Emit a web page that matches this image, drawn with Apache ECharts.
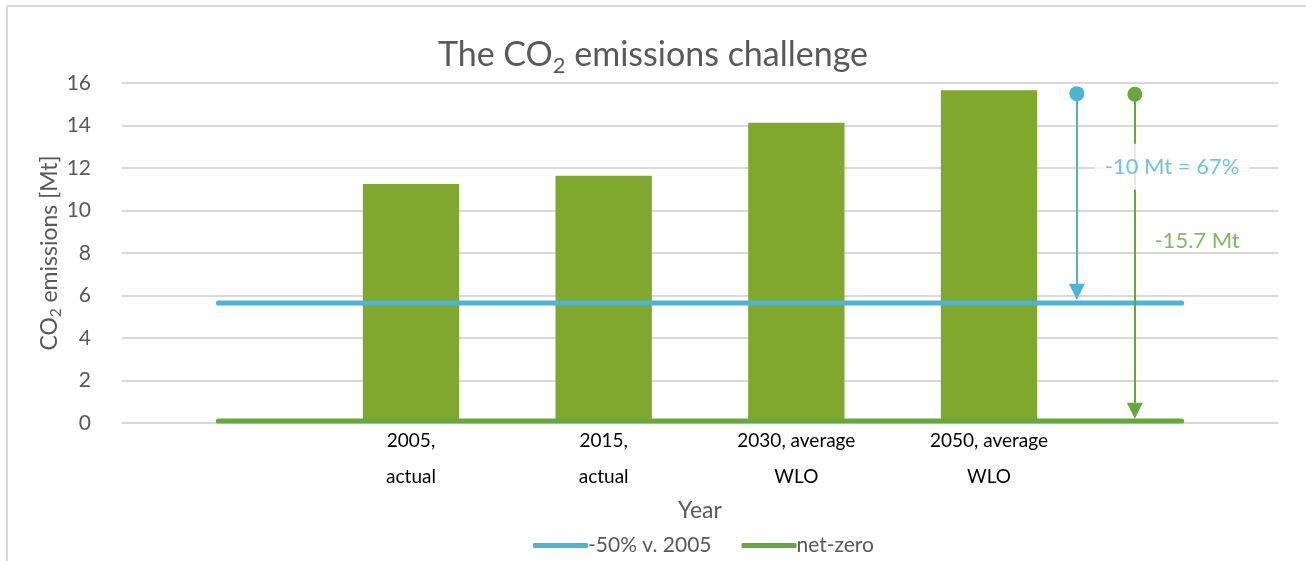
<!DOCTYPE html>
<html>
<head>
<meta charset="utf-8">
<script src="https://cdn.jsdelivr.net/npm/echarts@6/dist/echarts.min.js"></script>
<style>
  html, body { margin: 0; padding: 0; background: #fff; }
  #chart { width: 1306px; height: 561px; }
</style>
</head>
<body>
<div id="chart"></div>
<script>
// data
var categories = ['', '2005,\nactual', '2015,\nactual', '2030, average\nWLO', '2050, average\nWLO', ''];
var emissions = [null, 11.25, 11.63, 14.13, 15.66, null];
var halfTarget = [5.65, 5.65, 5.65, 5.65, 5.65, 5.65];
var netZero = [0.1, 0.1, 0.1, 0.1, 0.1, 0.1];
// arrows: [from, to] in Mt
var arrowHalf = [15.5, 5.8];
var arrowZero = [15.47, 0.2];
var arrowLabels = ['-10 Mt = 67%', '-15.7 Mt'];
var labelValues = [12.06, 8.58];

var blue = '#4BB5D3';
var green = '#65A83B';
var barGreen = '#80A82F';
var font = 'Lato, "Open Sans", sans-serif';

// x slots of the two arrows, on the hidden value axis
var xHalf = 4.456, xZero = 4.757;

var chart = echarts.init(document.getElementById('chart'));

var option = {
  animation: false,
  textStyle: { fontFamily: font },
  title: {
    text: 'The CO{sub|2} emissions challenge',
    left: 'center',
    top: 28,
    textStyle: {
      fontFamily: font,
      fontSize: 34,
      fontWeight: 'normal',
      color: '#595959',
      rich: {
        sub: { fontSize: 22, color: '#595959', fontFamily: font, padding: [22, 0, 0, 0] }
      }
    }
  },
  graphic: [
    { type: 'line', shape: { x1: 7, y1: 6, x2: 1306, y2: 6 }, style: { stroke: '#d9d9d9', lineWidth: 2 } },
    { type: 'line', shape: { x1: 7, y1: 6, x2: 7, y2: 561 }, style: { stroke: '#d9d9d9', lineWidth: 2 } }
  ],
  legend: {
    data: ['-50% v. 2005', 'net-zero'],
    left: 528,
    top: 530,
    itemWidth: 55,
    itemHeight: 5,
    itemGap: 30,
    icon: 'roundRect',
    textStyle: { fontSize: 21, color: '#595959', fontFamily: font, padding: [0, 0, 0, -5] }
  },
  grid: { left: 122, right: 28, top: 83, bottom: 138 },
  xAxis: [{
    type: 'category',
    data: categories,
    name: 'Year',
    nameLocation: 'middle',
    nameGap: 76,
    nameMoveOverlap: false,
    nameTextStyle: { fontSize: 23, color: '#595959', fontFamily: font },
    axisLine: { show: false },
    axisTick: { show: false },
    axisLabel: { interval: 0, color: '#000', fontSize: 19, lineHeight: 36, margin: 0, fontFamily: font }
  }, {
    type: 'value',
    min: -0.5,
    max: 5.5,
    show: false
  }],
  yAxis: {
    type: 'value',
    min: 0,
    max: 16,
    interval: 2,
    name: '{a|CO}{s|2}{a| emissions [Mt]}',
    nameLocation: 'middle',
    nameGap: 58,
    nameMoveOverlap: false,
    nameRotate: 90,
    nameTextStyle: {
      rich: {
        a: { fontSize: 23, color: '#595959', fontFamily: font },
        s: { fontSize: 15, color: '#595959', fontFamily: font, padding: [14, 0, 0, 0] }
      }
    },
    axisLine: { show: false },
    axisTick: { show: false },
    axisLabel: { color: '#595959', fontSize: 21, margin: 31, fontFamily: font },
    splitLine: { lineStyle: { color: '#d9d9d9', width: 2 } }
  },
  series: [{
    name: 'Emissions',
    type: 'bar',
    data: emissions,
    barWidth: '50%',
    itemStyle: { color: barGreen }
  }, {
    name: '-50% v. 2005',
    type: 'line',
    data: halfTarget,
    symbol: 'none',
    itemStyle: { color: blue },
    lineStyle: { color: blue, width: 5, cap: 'round' },
    z: 3
  }, {
    name: 'net-zero',
    type: 'line',
    data: netZero,
    symbol: 'none',
    itemStyle: { color: green },
    lineStyle: { color: green, width: 5, cap: 'round' },
    z: 3
  }, {
    name: 'arrows',
    type: 'line',
    xAxisIndex: 1,
    data: [],
    markLine: {
      silent: true,
      label: { show: false },
      symbol: 'none',
      data: [
        [
          { coord: [xHalf, arrowHalf[0]], lineStyle: { color: blue, width: 2, type: 'solid' } },
          { coord: [xHalf, arrowHalf[1] + 0.3] }
        ],
        [
          { coord: [xZero, arrowZero[0]], lineStyle: { color: green, width: 2, type: 'solid' } },
          { coord: [xZero, arrowZero[1] + 0.3] }
        ]
      ]
    },
    z: 4
  }, {
    name: 'arrow ends',
    type: 'scatter',
    xAxisIndex: 1,
    silent: true,
    z: 5,
    itemStyle: { opacity: 1 },
    data: [
      { value: [xHalf, arrowHalf[0]], symbol: 'circle', symbolSize: 15, itemStyle: { color: blue, opacity: 1 } },
      { value: [xZero, arrowZero[0]], symbol: 'circle', symbolSize: 15, itemStyle: { color: green, opacity: 1 } },
      { value: [xHalf, arrowHalf[1]], symbol: 'triangle', symbolRotate: 180, symbolSize: [16, 16], symbolOffset: [0, -8], itemStyle: { color: blue, opacity: 1 } },
      { value: [xZero, arrowZero[1]], symbol: 'triangle', symbolRotate: 180, symbolSize: [16, 16], symbolOffset: [0, -8], itemStyle: { color: green, opacity: 1 } }
    ]
  }, {
    name: 'labels',
    type: 'scatter',
    xAxisIndex: 1,
    symbolSize: 0,
    silent: true,
    z: 10,
    data: [
      { value: [4.95, labelValues[0]], label: { color: blue, backgroundColor: '#fff', padding: [12, 10, 12, 10] } },
      { value: [5.08, labelValues[1]], label: { color: green } }
    ],
    label: {
      show: true,
      position: 'inside',
      fontSize: 22,
      fontFamily: font,
      formatter: function (p) { return arrowLabels[p.dataIndex]; }
    }
  }]
};

chart.setOption(option);
</script>
</body>
</html>
